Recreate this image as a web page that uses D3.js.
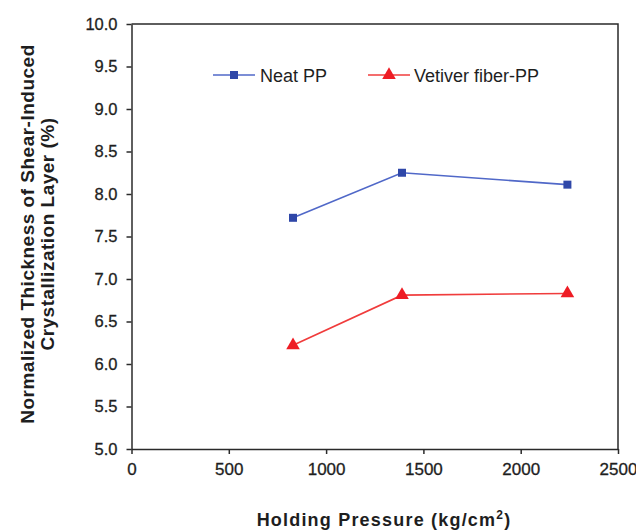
<!DOCTYPE html>
<html>
<head>
<meta charset="utf-8">
<script src="https://cdn.jsdelivr.net/npm/d3@7"></script>
<style>
  html, body { margin: 0; padding: 0; background: #fff; }
  svg { display: block; font-family: Arial, "Liberation Sans", sans-serif; }
</style>
</head>
<body>
<svg id="chart" width="636" height="530"></svg>
<script>
// Holding pressure (kg/cm²)
const pressure = [830, 1390, 2240];
// Normalized thickness of the shear-induced crystallization layer (%)
const neatPP = [7.72, 8.25, 8.11];
const vetiverPP = [6.22, 6.81, 6.83];
const seriesNames = ["Neat PP", "Vetiver fiber-PP"];
const xTicks = [0, 500, 1000, 1500, 2000, 2500];
const yTicks = [5.0, 5.5, 6.0, 6.5, 7.0, 7.5, 8.0, 8.5, 9.0, 9.5, 10.0];

const svg = d3.select("#chart");
const plotLeft = 131.5, plotRight = 618, plotTop = 24, plotBottom = 449;

const x = d3.scaleLinear().domain([0, 2500]).range([plotLeft, plotRight]);
const y = d3.scaleLinear().domain([5, 10]).range([plotBottom, plotTop]);

const axisColor = "#2a2a2a";
const textColor = "#1e1e1e";

// plot frame (top and right edges)
svg.append("path")
  .attr("d", `M${plotLeft},${plotTop}H${plotRight}V${plotBottom}`)
  .attr("fill", "none").attr("stroke", axisColor).attr("stroke-width", 1.5);

// x axis
const gx = svg.append("g").attr("transform", `translate(0,${plotBottom})`)
  .call(d3.axisBottom(x).tickValues(xTicks).tickFormat(d3.format("d")).tickSize(5).tickSizeOuter(0));
gx.select(".domain").attr("stroke", axisColor).attr("stroke-width", 1.5);
gx.selectAll(".tick line").attr("stroke", axisColor).attr("stroke-width", 1.5);
gx.selectAll(".tick text").attr("font-size", 17).attr("fill", textColor)
  .attr("stroke", textColor).attr("stroke-width", 0.3)
  .attr("font-family", "Arial, 'Liberation Sans', sans-serif").attr("dy", "1.05em");

// y axis
const gy = svg.append("g").attr("transform", `translate(${plotLeft},0)`)
  .call(d3.axisLeft(y).tickValues(yTicks).tickFormat(d3.format(".1f")).tickSize(5).tickSizeOuter(0));
gy.select(".domain").attr("stroke", axisColor).attr("stroke-width", 1.5);
gy.selectAll(".tick line").attr("stroke", axisColor).attr("stroke-width", 1.5);
gy.selectAll(".tick text").attr("font-size", 16.5).attr("fill", textColor)
  .attr("stroke", textColor).attr("stroke-width", 0.3)
  .attr("font-family", "Arial, 'Liberation Sans', sans-serif").attr("x", -14);

// axis titles
svg.append("text")
  .attr("x", 384).attr("y", 526)
  .attr("text-anchor", "middle")
  .attr("font-size", 18).attr("font-weight", "bold").attr("fill", textColor)
  .attr("letter-spacing", 1.2)
  .html('Holding Pressure (kg/cm<tspan dy="-7" font-size="12">2</tspan><tspan dy="7">)</tspan>');

const yTitle = svg.append("text")
  .attr("transform", "translate(0,234) rotate(-90)")
  .attr("text-anchor", "middle")
  .attr("font-size", 19).attr("font-weight", "bold").attr("fill", textColor)
  .attr("letter-spacing", 0.5);
yTitle.append("tspan").attr("x", 0).attr("y", 34).text("Normalized Thickness of Shear-Induced");
yTitle.append("tspan").attr("x", 0).attr("y", 54).text("Crystallization Layer (%)");

// series
const line = d3.line().x((d, i) => x(pressure[i])).y(d => y(d));
const blueLine = "#5068c8", blueMark = "#2f47a8";
const redLine = "#f03c3c", redMark = "#ee1c24";

svg.append("path").datum(neatPP).attr("d", line)
  .attr("fill", "none").attr("stroke", blueLine).attr("stroke-width", 1.6);
svg.append("path").datum(vetiverPP).attr("d", line)
  .attr("fill", "none").attr("stroke", redLine).attr("stroke-width", 1.6);

const sq = d3.symbol().type(d3.symbolSquare).size(64);
const tri = d3.symbol().type(d3.symbolTriangle).size(80);

svg.selectAll(".neat").data(neatPP).join("path")
  .attr("class", "neat")
  .attr("d", sq)
  .attr("transform", (d, i) => `translate(${x(pressure[i])},${y(d)})`)
  .attr("fill", blueMark);

svg.selectAll(".vet").data(vetiverPP).join("path")
  .attr("class", "vet")
  .attr("d", tri)
  .attr("transform", (d, i) => `translate(${x(pressure[i])},${y(d)})`)
  .attr("fill", redMark);

// legend
const legend = svg.append("g").attr("font-size", 18).attr("fill", textColor);
const legY = 75;
legend.append("line").attr("x1", 213).attr("x2", 255).attr("y1", legY).attr("y2", legY)
  .attr("stroke", blueLine).attr("stroke-width", 1.6);
legend.append("path").attr("d", sq).attr("transform", `translate(234,${legY})`).attr("fill", blueMark);
legend.append("text").attr("x", 260).attr("y", legY + 6.5).text(seriesNames[0]);

legend.append("line").attr("x1", 368).attr("x2", 410).attr("y1", legY).attr("y2", legY)
  .attr("stroke", redLine).attr("stroke-width", 1.6);
legend.append("path").attr("d", tri).attr("transform", `translate(389,${legY})`).attr("fill", redMark);
legend.append("text").attr("x", 414).attr("y", legY + 6.5).text(seriesNames[1]);
</script>
</body>
</html>
